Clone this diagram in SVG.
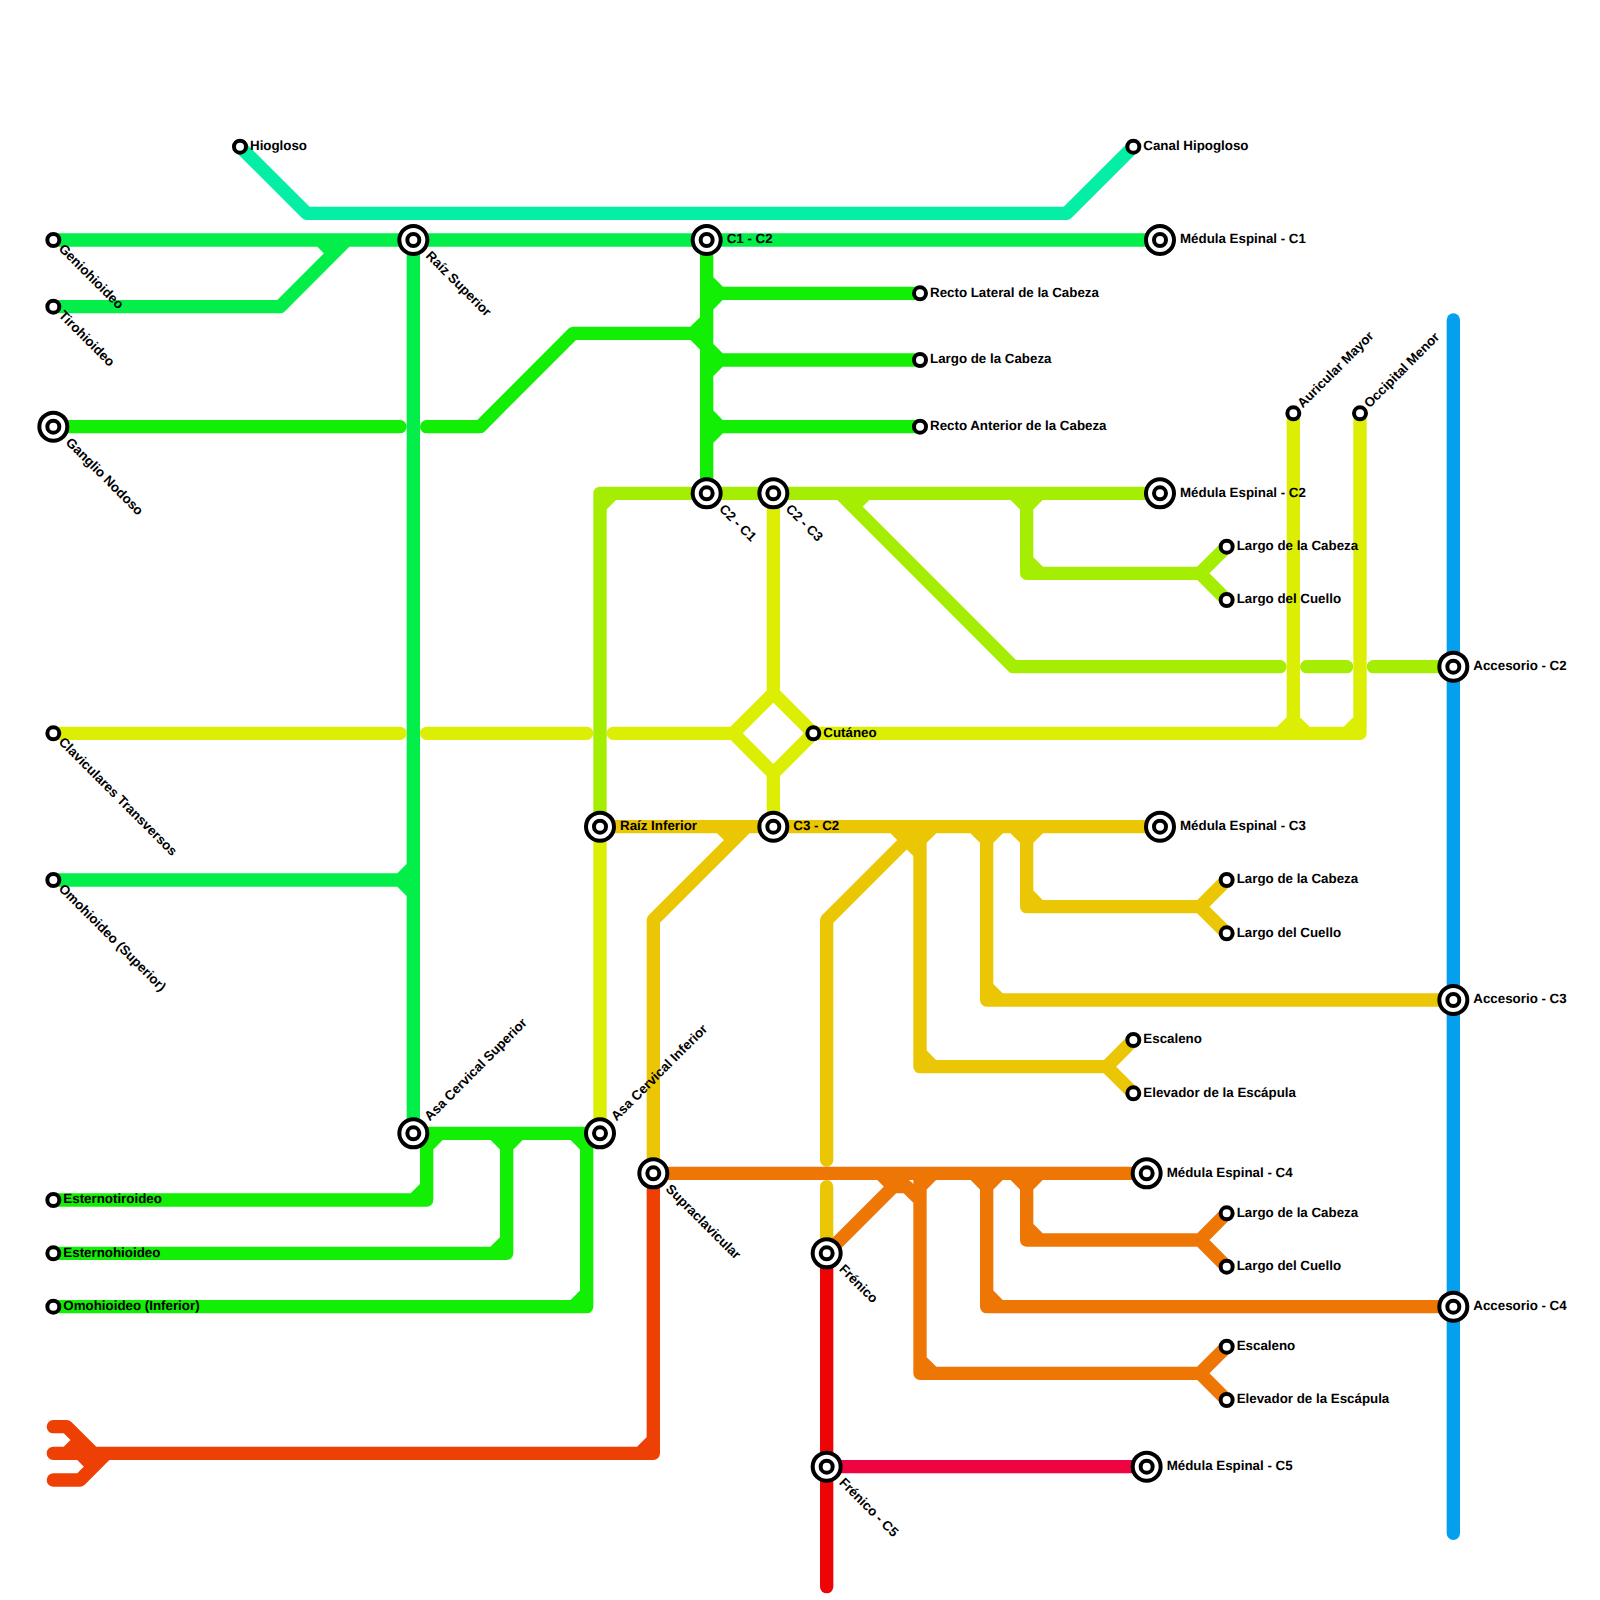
<svg xmlns="http://www.w3.org/2000/svg" width="1600" height="1600" viewBox="0 0 1600 1600">
<style>
.l{fill:none;stroke-width:13.33;stroke-linecap:round;stroke-linejoin:round}
.teal{stroke:#04eeA5}.g1{stroke:#04ee4a}.g2{stroke:#12ee04}.lime{stroke:#a5ee04}.yg{stroke:#dcee04}.gold{stroke:#ebc604}.or{stroke:#ee7604}.rd{stroke:#ee3f04}.red{stroke:#ee0404}.cr{stroke:#ee0440}.bl{stroke:#04a0ee}
.s{fill:#fff;stroke:#000;stroke-width:4}
.b{fill:#fff;stroke:#000;stroke-width:4}
.c{fill:#fff;stroke:#000;stroke-width:4}
text{font-family:"Liberation Sans",Arial,sans-serif;font-size:13.33px;font-weight:bold;fill:#000;text-rendering:geometricPrecision}
</style>
<rect width="1600" height="1600" fill="#fff"/>
<g id="connectors">
<path class="l bl" d="M1453.33 320V1533.33"/>
<path class="l teal" d="M240 146.67L306.67 213.33H1066.67L1133.33 146.67"/>
<path class="l g1" d="M53.33 240H1160M53.33 306.67H280L346.67 240M320 240L333.33 253.33M413.33 240V1133.33M53.33 880H413.33M400 880L413.33 866.67M400 880L413.33 893.33"/>
<path class="l g2" d="M53.33 426.67H400M426.67 426.67H480L573.33 333.33H706.67M693.33 333.33L706.67 320M693.33 333.33L706.67 346.67M706.67 240V493.33M706.67 293.33H920M706.67 280L720 293.33M706.67 306.67L720 293.33M706.67 360H920M706.67 346.67L720 360M706.67 373.33L720 360M706.67 426.67H920M706.67 413.33L720 426.67M706.67 440L720 426.67"/>
<path class="l g2" d="M413.33 1133.33H600M53.33 1200H426.67V1133.33M426.67 1146.67L440 1133.33M413.33 1200L426.67 1186.67M53.33 1253.33H506.67V1133.33M493.33 1133.33L506.67 1146.67M520 1133.33L506.67 1146.67M493.33 1253.33L506.67 1240M53.33 1306.67H586.67V1133.33M573.33 1133.33L586.67 1146.67M573.33 1306.67L586.67 1293.33"/>
<path class="l lime" d="M1160 493.33H600V826.67M600 506.67L613.33 493.33M840 493.33L1013.33 666.67H1280M866.67 493.33L853.33 506.67M1306.67 666.67H1346.67M1373.33 666.67H1453.33M1026.67 493.33V573.33H1200L1226.67 546.67M1200 573.33L1226.67 600M1013.33 493.33L1026.67 506.67M1040 493.33L1026.67 506.67M1026.67 560L1040 573.33"/>
<path class="l yg" d="M53.33 733.33H400M426.67 733.33H586.67M613.33 733.33H733.33L773.33 693.33L813.33 733.33L773.33 773.33L733.33 733.33M773.33 493.33V693.33M773.33 773.33V826.67M813.33 733.33H1360V413.33M1293.33 413.33V733.33M1280 733.33L1293.33 720M1306.67 733.33L1293.33 720M1346.67 733.33L1360 720M600 826.67V1133.33"/>
<path class="l gold" d="M600 826.67H1160M746.67 826.67L653.33 920V1173.33M720 826.67L733.33 840M920 826.67L826.67 920V1160M826.67 1186.67V1253.33M893.33 826.67L920 853.33M933.33 826.67L920 840M920 826.67V1066.67H1106.67L1133.33 1040M1106.67 1066.67L1133.33 1093.33M920 1053.33L933.33 1066.67M986.67 826.67V1000H1453.33M973.33 826.67L986.67 840M1000 826.67L986.67 840M986.67 986.67L1000 1000M1026.67 826.67V906.67H1200L1226.67 880M1200 906.67L1226.67 933.33M1013.33 826.67L1026.67 840M1040 826.67L1026.67 840M1026.67 893.33L1040 906.67"/>
<path class="l or" d="M653.33 1173.33H1146.67M826.67 1253.33L906.67 1173.33M880 1173.33L893.33 1186.67H906.67L920 1200M933.33 1173.33L920 1186.67M920 1173.33V1373.33H1200L1226.67 1346.67M1200 1373.33L1226.67 1400M920 1360L933.33 1373.33M986.67 1173.33V1306.67H1453.33M973.33 1173.33L986.67 1186.67M1000 1173.33L986.67 1186.67M986.67 1293.33L1000 1306.67M1026.67 1173.33V1240H1200L1226.67 1213.33M1200 1240L1226.67 1266.67M1013.33 1173.33L1026.67 1186.67M1040 1173.33L1026.67 1186.67M1026.67 1226.67L1040 1240"/>
<path class="l rd" d="M653.33 1173.33V1453.33H53.33M640 1453.33L653.33 1440M53.33 1426.67H66.67L93.33 1453.33M53.33 1480H80L106.67 1453.33M66.67 1453.33L80 1440M80 1453.33L93.33 1466.67"/>
<path class="l red" d="M826.67 1253.33V1586.67"/>
<path class="l cr" d="M826.67 1466.67H1146.67"/>
</g>
<g id="n-hiogloso" transform="translate(240 146.67)"><circle class="s" r="6"/><text x="10" y="3.33">Hiogloso</text></g>
<g id="n-canal" transform="translate(1133.33 146.67)"><circle class="s" r="6"/><text x="10" y="3.33">Canal Hipogloso</text></g>
<g id="n-genio" transform="translate(53.33 240)"><circle class="s" r="6"/><text transform="rotate(45)" x="10" y="3.33">Geniohioideo</text></g>
<g id="n-tiro" transform="translate(53.33 306.67)"><circle class="s" r="6"/><text transform="rotate(45)" x="10" y="3.33">Tirohioideo</text></g>
<g id="n-ganglio" transform="translate(53.33 426.67)"><circle class="b" r="14"/><circle class="c" r="6"/><text transform="rotate(45)" x="20" y="3.33">Ganglio Nodoso</text></g>
<g id="n-raizsup" transform="translate(413.33 240)"><circle class="b" r="14"/><circle class="c" r="6"/><text transform="rotate(45)" x="20" y="3.33">Raíz Superior</text></g>
<g id="n-c1c2" transform="translate(706.67 240)"><circle class="b" r="14"/><circle class="c" r="6"/><text x="20" y="3.33">C1 - C2</text></g>
<g id="n-mc1" transform="translate(1160 240)"><circle class="b" r="14"/><circle class="c" r="6"/><text x="20" y="3.33">Médula Espinal - C1</text></g>
<g id="n-rlc" transform="translate(920 293.33)"><circle class="s" r="6"/><text x="10" y="3.33">Recto Lateral de la Cabeza</text></g>
<g id="n-lc" transform="translate(920 360)"><circle class="s" r="6"/><text x="10" y="3.33">Largo de la Cabeza</text></g>
<g id="n-rac" transform="translate(920 426.67)"><circle class="s" r="6"/><text x="10" y="3.33">Recto Anterior de la Cabeza</text></g>
<g id="n-auricular" transform="translate(1293.33 413.33)"><circle class="s" r="6"/><text transform="rotate(-45)" x="10" y="3.33">Auricular Mayor</text></g>
<g id="n-occipital" transform="translate(1360 413.33)"><circle class="s" r="6"/><text transform="rotate(-45)" x="10" y="3.33">Occipital Menor</text></g>
<g id="n-c2c1" transform="translate(706.67 493.33)"><circle class="b" r="14"/><circle class="c" r="6"/><text transform="rotate(45)" x="20" y="3.33">C2 - C1</text></g>
<g id="n-c2c3" transform="translate(773.33 493.33)"><circle class="b" r="14"/><circle class="c" r="6"/><text transform="rotate(45)" x="20" y="3.33">C2 - C3</text></g>
<g id="n-mc2" transform="translate(1160 493.33)"><circle class="b" r="14"/><circle class="c" r="6"/><text x="20" y="3.33">Médula Espinal - C2</text></g>
<g id="n-lc2" transform="translate(1226.67 546.67)"><circle class="s" r="6"/><text x="10" y="3.33">Largo de la Cabeza</text></g>
<g id="n-lcu2" transform="translate(1226.67 600)"><circle class="s" r="6"/><text x="10" y="3.33">Largo del Cuello</text></g>
<g id="n-ac2" transform="translate(1453.33 666.67)"><circle class="b" r="14"/><circle class="c" r="6"/><text x="20" y="3.33">Accesorio - C2</text></g>
<g id="n-clav" transform="translate(53.33 733.33)"><circle class="s" r="6"/><text transform="rotate(45)" x="10" y="3.33">Claviculares Transversos</text></g>
<g id="n-cutaneo" transform="translate(813.33 733.33)"><circle class="s" r="6"/><text x="10" y="3.33">Cutáneo</text></g>
<g id="n-raizinf" transform="translate(600 826.67)"><circle class="b" r="14"/><circle class="c" r="6"/><text x="20" y="3.33">Raíz Inferior</text></g>
<g id="n-c3c2" transform="translate(773.33 826.67)"><circle class="b" r="14"/><circle class="c" r="6"/><text x="20" y="3.33">C3 - C2</text></g>
<g id="n-mc3" transform="translate(1160 826.67)"><circle class="b" r="14"/><circle class="c" r="6"/><text x="20" y="3.33">Médula Espinal - C3</text></g>
<g id="n-omosup" transform="translate(53.33 880)"><circle class="s" r="6"/><text transform="rotate(45)" x="10" y="3.33">Omohioideo (Superior)</text></g>
<g id="n-lc3" transform="translate(1226.67 880)"><circle class="s" r="6"/><text x="10" y="3.33">Largo de la Cabeza</text></g>
<g id="n-lcu3" transform="translate(1226.67 933.33)"><circle class="s" r="6"/><text x="10" y="3.33">Largo del Cuello</text></g>
<g id="n-ac3" transform="translate(1453.33 1000)"><circle class="b" r="14"/><circle class="c" r="6"/><text x="20" y="3.33">Accesorio - C3</text></g>
<g id="n-esc3" transform="translate(1133.33 1040)"><circle class="s" r="6"/><text x="10" y="3.33">Escaleno</text></g>
<g id="n-ele3" transform="translate(1133.33 1093.33)"><circle class="s" r="6"/><text x="10" y="3.33">Elevador de la Escápula</text></g>
<g id="n-asasup" transform="translate(413.33 1133.33)"><circle class="b" r="14"/><circle class="c" r="6"/><text transform="rotate(-45)" x="20" y="3.33">Asa Cervical Superior</text></g>
<g id="n-asainf" transform="translate(600 1133.33)"><circle class="b" r="14"/><circle class="c" r="6"/><text transform="rotate(-45)" x="20" y="3.33">Asa Cervical Inferior</text></g>
<g id="n-supra" transform="translate(653.33 1173.33)"><circle class="b" r="14"/><circle class="c" r="6"/><text transform="rotate(45)" x="20" y="3.33">Supraclavicular</text></g>
<g id="n-mc4" transform="translate(1146.67 1173.33)"><circle class="b" r="14"/><circle class="c" r="6"/><text x="20" y="3.33">Médula Espinal - C4</text></g>
<g id="n-esternot" transform="translate(53.33 1200)"><circle class="s" r="6"/><text x="10" y="3.33">Esternotiroideo</text></g>
<g id="n-lc4" transform="translate(1226.67 1213.33)"><circle class="s" r="6"/><text x="10" y="3.33">Largo de la Cabeza</text></g>
<g id="n-esterno" transform="translate(53.33 1253.33)"><circle class="s" r="6"/><text x="10" y="3.33">Esternohioideo</text></g>
<g id="n-frenico" transform="translate(826.67 1253.33)"><circle class="b" r="14"/><circle class="c" r="6"/><text transform="rotate(45)" x="20" y="3.33">Frénico</text></g>
<g id="n-lcu4" transform="translate(1226.67 1266.67)"><circle class="s" r="6"/><text x="10" y="3.33">Largo del Cuello</text></g>
<g id="n-omoinf" transform="translate(53.33 1306.67)"><circle class="s" r="6"/><text x="10" y="3.33">Omohioideo (Inferior)</text></g>
<g id="n-ac4" transform="translate(1453.33 1306.67)"><circle class="b" r="14"/><circle class="c" r="6"/><text x="20" y="3.33">Accesorio - C4</text></g>
<g id="n-esc4" transform="translate(1226.67 1346.67)"><circle class="s" r="6"/><text x="10" y="3.33">Escaleno</text></g>
<g id="n-ele4" transform="translate(1226.67 1400)"><circle class="s" r="6"/><text x="10" y="3.33">Elevador de la Escápula</text></g>
<g id="n-frenc5" transform="translate(826.67 1466.67)"><circle class="b" r="14"/><circle class="c" r="6"/><text transform="rotate(45)" x="20" y="3.33">Frénico - C5</text></g>
<g id="n-mc5" transform="translate(1146.67 1466.67)"><circle class="b" r="14"/><circle class="c" r="6"/><text x="20" y="3.33">Médula Espinal - C5</text></g>
</svg>
